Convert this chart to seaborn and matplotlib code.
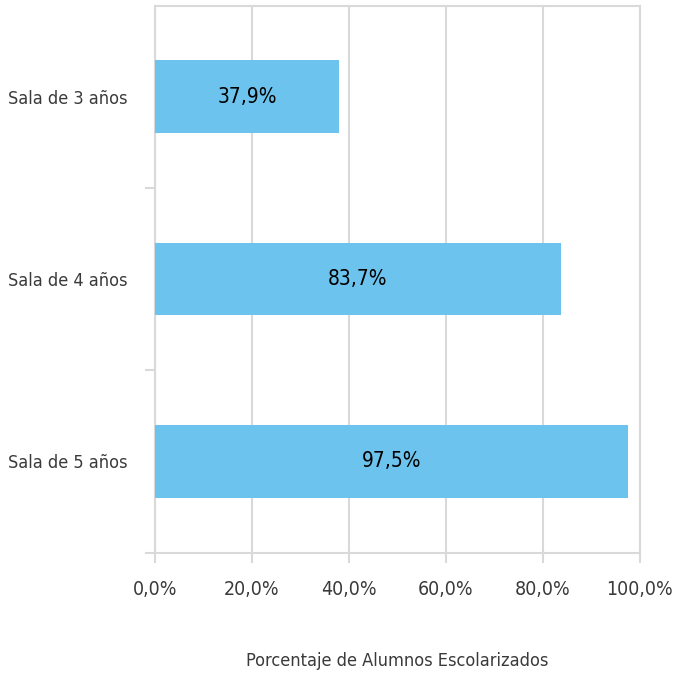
import matplotlib
matplotlib.use("Agg")
import matplotlib.pyplot as plt
import seaborn as sns
import pandas as pd

categories = ["Sala de 3 años", "Sala de 4 años", "Sala de 5 años"]
values = [37.9, 83.7, 97.5]
xticks = [0, 20, 40, 60, 80, 100]
xlabel = "Porcentaje de Alumnos Escolarizados"

df = pd.DataFrame({"cat": categories, "val": values})

sns.set_theme(style="white")
plt.rcParams['font.family'] = ['DejaVu Sans']
plt.rcParams['font.stretch'] = 'condensed'

fig = plt.figure(figsize=(6.85, 6.74), dpi=100)
ax = fig.add_axes([155/685, 1 - 552.5/674, (640-155)/685, (552.5-5.5)/674])

sns.barplot(data=df, x="val", y="cat", orient="h", color="#6CC4EE",
            width=0.4, saturation=1, ax=ax, zorder=3, linewidth=0)

ax.set_xlim(0, 100)
ax.set_ylim(2.5, -0.5)
ax.set_xticks(xticks)
ax.set_xticklabels([f"{t:.1f}".replace(".", ",") + "%" for t in xticks],
                   fontsize=14, color="#3a3a3a")
ax.tick_params(axis="x", pad=13, length=7, width=1.5, color="#D9D9D9", direction="out", bottom=True)
ax.set_yticks([0, 1, 2])
ax.set_yticklabels(categories, fontsize=13, color="#3a3a3a")
ax.set_yticks([0.5, 1.5, 2.5], minor=True)
ax.tick_params(axis="y", which="major", length=0, pad=20)
ax.tick_params(axis="y", which="minor", length=7, width=1.5, color="#D9D9D9", left=True)

ax.grid(axis="x", color="#D9D9D9", linewidth=1.5, zorder=0)
ax.set_axisbelow(True)
for s in ax.spines.values():
    s.set_color("#D9D9D9")
    s.set_linewidth(1.5)
    s.set_visible(True)

ax.set_ylabel("")
ax.set_xlabel(xlabel, fontsize=13, color="#3a3a3a", labelpad=38)

for i, v in enumerate(values):
    ax.text(v / 2, i, f"{v:.1f}".replace(".", ",") + "%", ha="center", va="center",
            fontsize=15, color="black", zorder=4)

fig.savefig("out.png", dpi=100)
